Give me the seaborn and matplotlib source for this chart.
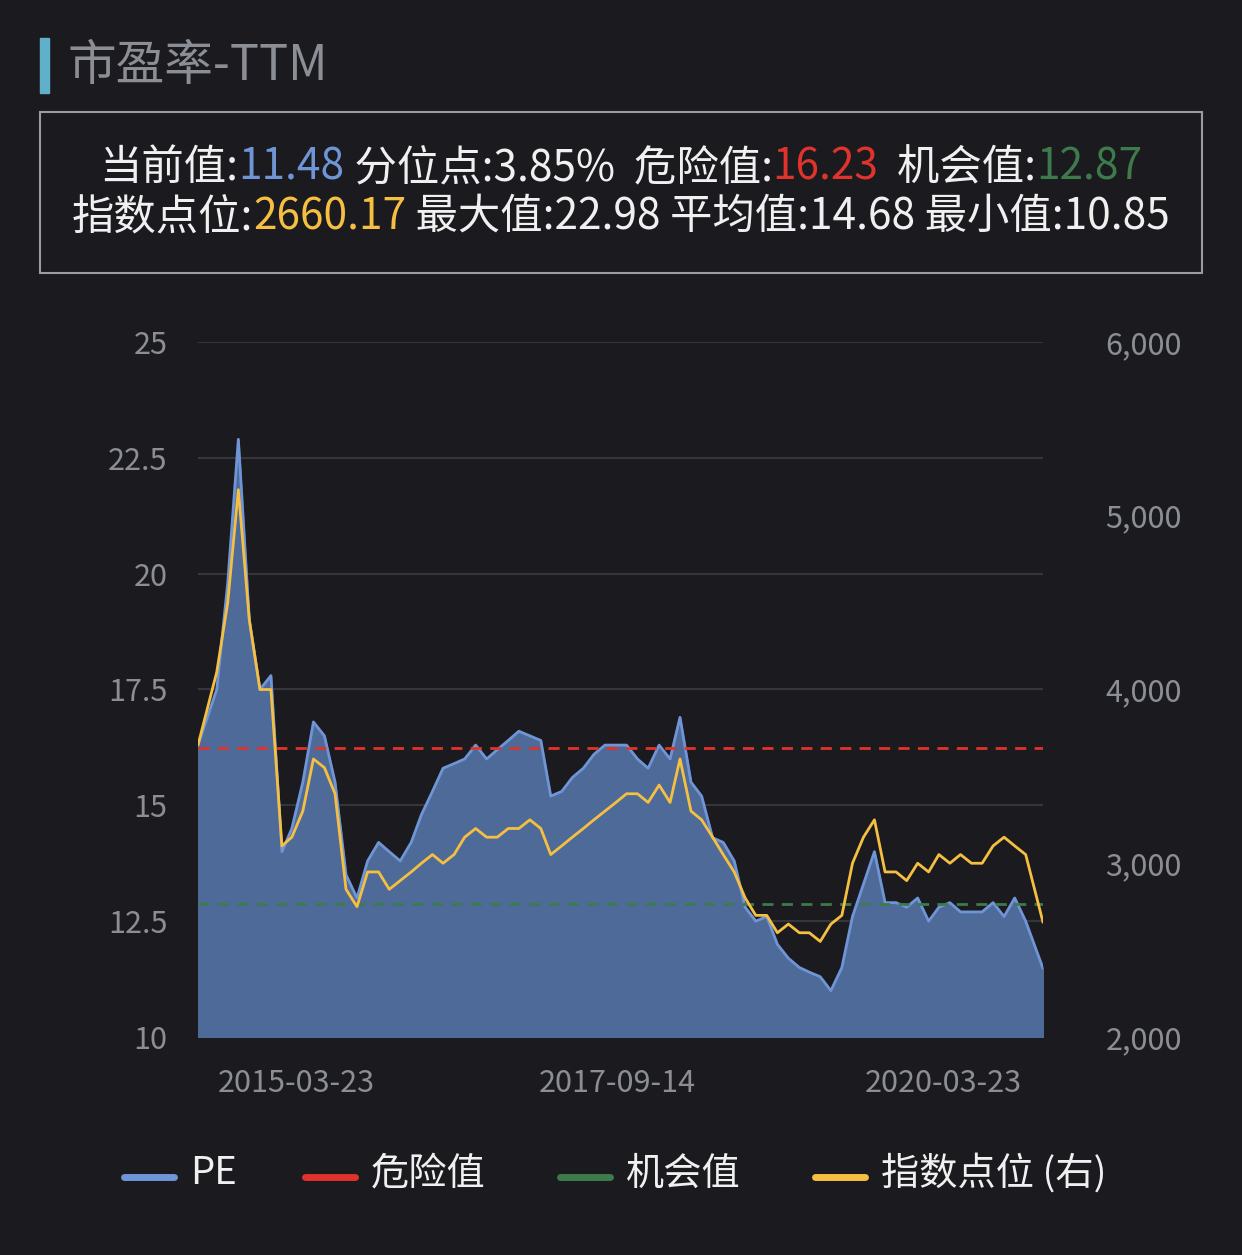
import matplotlib
matplotlib.use("Agg")
import matplotlib.pyplot as plt
import seaborn as sns
import pandas as pd
import numpy as np

sns.set_theme(style="dark")
plt.rcParams['font.family'] = ['Noto Sans CJK SC', 'DejaVu Sans']

months = list(pd.date_range("2014-07-20", "2020-11-20", freq="MS") + pd.Timedelta(days=10))
months = [pd.Timestamp("2014-06-19")] + months + [pd.Timestamp("2020-12-30")]
pe = [16.3,17.5,19.8,22.9,19.0,17.5,17.8,14.0,14.5,15.5,16.8,16.5,15.5,13.5,13.0,13.8,14.2,14.0,
      13.8,14.2,14.8,15.3,15.8,15.9,16.0,16.3,16.0,16.2,16.4,16.6,16.5,16.4,15.2,15.3,15.6,15.8,
      16.1,16.3,16.3,16.3,16.0,15.8,16.3,16.0,16.9,15.5,15.2,14.3,14.2,13.8,12.8,12.5,12.6,12.0,
      11.7,11.5,11.4,11.3,11.0,11.5,12.6,13.3,14.0,12.9,12.9,12.8,13.0,12.5,12.8,12.9,12.7,12.7,
      12.7,12.9,12.6,13.0,12.5,11.48]
idx = [3680,4100,4500,5150,4400,4000,4000,3100,3150,3300,3600,3550,3400,2850,2750,2950,2950,2850,
       2900,2950,3000,3050,3000,3050,3150,3200,3150,3150,3200,3200,3250,3200,3050,3100,3150,3200,
       3250,3300,3350,3400,3400,3350,3450,3350,3600,3300,3250,3150,3050,2950,2800,2700,2700,2600,
       2650,2600,2600,2550,2650,2700,3000,3150,3250,2950,2950,2900,3000,2950,3050,3000,3050,3000,
       3000,3100,3150,3100,3050,2660]
danger = 16.23
chance = 12.87
xticks = ["2015-03-23", "2017-09-14", "2020-03-23"]

BG = "#1b1b1f"
GREY = "#8b8e94"
n = min(len(months), len(pe))
df = pd.DataFrame({"date": months[:n], "pe": pe[:n], "idx": idx[:n]})

fig = plt.figure(figsize=(12.42, 12.55), dpi=100, facecolor=BG)
ax = fig.add_axes([0.1594, 0.1737, 0.6804, 0.5538])
ax.set_facecolor(BG)
ax.fill_between(df["date"], df["pe"], 10, color="#4e6a98", alpha=1.0, zorder=1)
sns.lineplot(data=df, x="date", y="pe", ax=ax, color="#6f95d6", lw=2, zorder=3)
ax.axhline(danger, color="#e0332b", ls=(0, (4, 3)), lw=2, zorder=4)
ax.axhline(chance, color="#3d7a4c", ls=(0, (4, 3)), lw=2, zorder=4)
ax.set_ylim(10, 25)
ax.set_xlim(df["date"].iloc[0], df["date"].iloc[-1])
ax.set_yticks([10, 12.5, 15, 17.5, 20, 22.5, 25])
ax.set_yticklabels(["10", "12.5", "15", "17.5", "20", "22.5", "25"])
ax.grid(axis="y", color="#34363b", lw=1.5)
ax.grid(axis="x", visible=False)
ax.set_xticks(pd.to_datetime(xticks))
ax.set_xticklabels(xticks)
ax.tick_params(colors=GREY, labelsize=22, length=0, pad=22)
ax.set_xlabel(""); ax.set_ylabel("")
for s in ax.spines.values():
    s.set_visible(False)

ax2 = ax.twinx()
sns.lineplot(data=df, x="date", y="idx", ax=ax2, color="#f5bf42", lw=2, zorder=5)
ax2.set_ylim(2000, 6000)
ax2.set_yticks([2000, 3000, 4000, 5000, 6000])
ax2.set_yticklabels(["2,000", "3,000", "4,000", "5,000", "6,000"])
ax2.tick_params(colors=GREY, labelsize=22, length=0, pad=45)
ax2.set_ylabel("")
for s in ax2.spines.values():
    s.set_visible(False)
ax2.grid(False)

fig.patches.append(plt.Rectangle((40/1242, 1-93/1255), 9/1242, 55/1255, transform=fig.transFigure, color="#5fb0c8"))
fig.text(68/1242, 1-66/1255, "市盈率-TTM", color=GREY, fontsize=35, va="center")

fig.patches.append(plt.Rectangle((40/1242, 1-273/1255), 1162/1242, 161/1255, transform=fig.transFigure,
                                 fill=False, ec="#9a9ca0", lw=1.5))
W = "#f0f0f0"
lines = [
    [("当前值:", W), ("11.48", "#6f95d6"), (" 分位点:3.85%  危险值:", W), ("16.23", "#e0332b"), ("  机会值:", W), ("12.87", "#3d7a4c")],
    [("指数点位:", W), ("2660.17", "#f5bf42"), (" 最大值:22.98 平均值:14.68 最小值:10.85", W)],
]
fig.canvas.draw()
r = fig.canvas.get_renderer()
for yy, segs in zip([168, 217], lines):
    ts = [fig.text(0, 1-yy/1255, t, color=c, fontsize=30.5, va="center") for t, c in segs]
    widths = [t.get_window_extent(r).width for t in ts]
    x = (1242 - sum(widths)) / 2
    for t, w in zip(ts, widths):
        t.set_x(x/1242); x += w

items = [("PE", "#6f95d6", 124), ("危险值", "#e0332b", 305), ("机会值", "#3d7a4c", 560), ("指数点位 (右)", "#f5bf42", 815)]
for lab, c, x0 in items:
    fig.add_artist(plt.Line2D([x0/1242, (x0+50)/1242], [1-1177/1255]*2, color=c, lw=5, transform=fig.transFigure))
    fig.text((x0+66)/1242, 1-1174/1255, lab, color=W, fontsize=27.5, va="center")

fig.savefig("out.png", dpi=100, facecolor=BG)
